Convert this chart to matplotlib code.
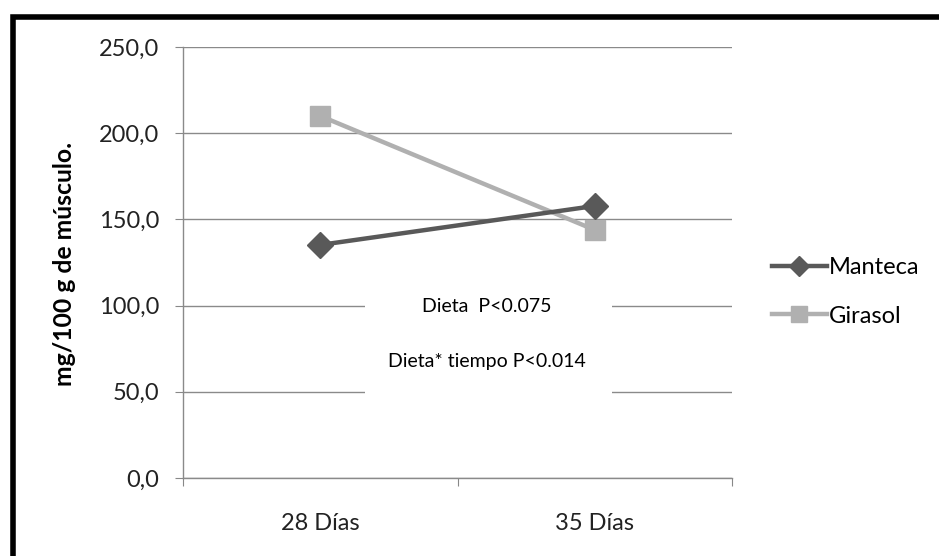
import matplotlib.pyplot as plt
from matplotlib.patches import Rectangle

plt.rcParams['font.family'] = ['Lato', 'DejaVu Sans']

# Data
categories = ['28 Días', '35 Días']
manteca = [135.2, 157.8]
girasol = [210.0, 143.9]
y_ticks = [0, 50, 100, 150, 200, 250]
y_tick_labels = ['0,0', '50,0', '100,0', '150,0', '200,0', '250,0']

fig = plt.figure(figsize=(9.39, 5.56), dpi=100)
W, H = 939, 556
ax = fig.add_axes([183 / W, 1 - 478 / H, (732 - 183) / W, (478 - 47) / H])

x = range(len(categories))
ax.plot(x, manteca, color='#595959', linewidth=3.2, marker='D', markersize=13,
        label='Manteca', zorder=4)
ax.plot(x, girasol, color='#b0b0b0', linewidth=3.2, marker='s', markersize=15,
        label='Girasol', zorder=3)

ax.set_xlim(-0.5, 1.5)
ax.set_ylim(0, 250)
ax.set_yticks(y_ticks)
ax.set_yticklabels(y_tick_labels, fontsize=17, color='#222222')
ax.set_xticks([-0.5, 0.5, 1.5])
ax.set_xticklabels([])
ax.set_xticks(list(x), minor=True)
ax.set_xticklabels(categories, minor=True, fontsize=17, color='#222222')
ax.tick_params(axis='x', which='minor', length=0, pad=25)
ax.tick_params(axis='x', which='major', length=6, color='#888888', direction='out')
ax.tick_params(axis='y', length=6, color='#888888', pad=11)

ax.grid(axis='y', color='#8a8a8a', linewidth=1)
ax.set_axisbelow(True)
for s in ['top', 'right']:
    ax.spines[s].set_visible(False)
for s in ['left', 'bottom']:
    ax.spines[s].set_color('#8a8a8a')
    ax.spines[s].set_linewidth(1)

fig.text(65 / W, 1 - 264 / H, 'mg/100 g de músculo.', rotation=90, ha='center', va='center',
         fontsize=17.8, fontweight='bold')

# white box with statistics
box = Rectangle((365 / W, 1 - 400 / H), (612 - 365) / W, (400 - 282) / H,
                transform=fig.transFigure, facecolor='white', edgecolor='none', zorder=2)
ax.add_patch(box)
box.set_clip_on(False)
fig.text(487 / W, 1 - 307 / H, 'Dieta  P<0.075', ha='center', va='center', fontsize=14, zorder=5)
fig.text(487 / W, 1 - 362 / H, 'Dieta* tiempo P<0.014', ha='center', va='center', fontsize=14, zorder=5)

ax.legend(loc='center left', bbox_to_anchor=(751 / W, 1 - 292 / H),
          bbox_transform=fig.transFigure, frameon=False, fontsize=17,
          handlelength=2.3, handletextpad=0.1, labelspacing=1.15, markerscale=0.75)

# outer black frame
fig.patches.append(Rectangle((12.5 / W, -0.1), 1.2, 1 - 16.5 / H + 0.1, transform=fig.transFigure,
                             fill=False, edgecolor='black', linewidth=4))

fig.savefig('out.png', dpi=100)
